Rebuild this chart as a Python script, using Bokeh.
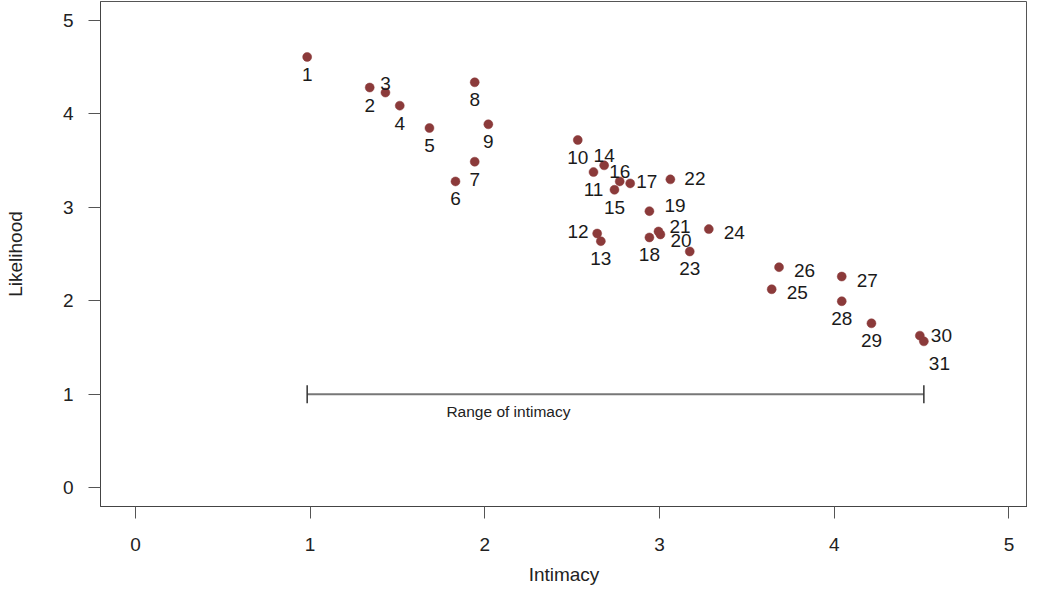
from math import pi
from bokeh.plotting import figure
from bokeh.models import Range1d, FixedTicker, ColumnDataSource, Label
from bokeh.core.properties import value
from bokeh.embed import file_html
from bokeh.resources import INLINE

# ---- data ----
ids = [str(i) for i in range(1, 32)]
intimacy = [0.983, 1.341, 1.431, 1.513, 1.683, 1.832, 1.942, 1.942, 2.020, 2.532,
            2.622, 2.643, 2.664, 2.683, 2.742, 2.772, 2.832, 2.942, 2.942, 3.005,
            2.994, 3.062, 3.173, 3.282, 3.642, 3.684, 4.043, 4.043, 4.213, 4.490,
            4.513]
likelihood = [4.607, 4.280, 4.226, 4.086, 3.847, 3.276, 3.487, 4.336, 3.887, 3.719,
              3.376, 2.719, 2.637, 3.448, 3.187, 3.276, 3.255, 2.677, 2.958, 2.709,
              2.741, 3.298, 2.527, 2.766, 2.123, 2.359, 2.259, 1.995, 1.759, 1.627,
              1.566]
# label placement relative to each point
label_pos = ["b", "b", "a", "b", "b", "b", "b", "b", "b", "b",
             "b", "l", "b", "a", "b", "a", "rn", "b", "ru", "rd",
             "ru2", "r0", "b", "r", "r", "r", "r", "b", "b", "r00",
             "br"]
x_ticks = [0, 1, 2, 3, 4, 5]
y_ticks = [0, 1, 2, 3, 4, 5]
x_title = "Intimacy"
y_title = "Likelihood"
range_label = "Range of intimacy"
range_level = 1

FONT = "Liberation Sans"
PT_COLOR = "#8B3A3A"

# label offsets (dx, dy in px, text_align)
OFFS = {
    "b": (0, 17.5, "center"),
    "a": (0, -9.5, "center"),
    "r": (15, 3.5, "left"),
    "r0": (14, -1, "left"),
    "r00": (11, 0, "left"),
    "rn": (6, -2, "left"),
    "ru": (15, -5.5, "left"),
    "ru2": (11, -5, "left"),
    "rd": (10, 6, "left"),
    "l": (-8.5, -2, "right"),
    "br": (5, 22, "left"),
}

X0 = -0.2
p = figure(width=1027, height=589, output_backend="svg", toolbar_location=None,
           x_range=Range1d(X0, X0 + 927 / 174.7), y_range=Range1d(-0.2, 5.2),
           min_border_left=100, min_border_right=0, min_border_top=1,
           min_border_bottom=83)
p.background_fill_color = "white"
p.border_fill_color = "white"
p.outline_line_color = "#555555"
p.outline_line_width = 1
p.xgrid.visible = False
p.ygrid.visible = False

for ax in (p.xaxis, p.yaxis):
    ax.axis_line_color = "#444444"
    ax.major_tick_line_color = "#555555"
    ax.major_tick_out = 12
    ax.major_tick_in = 0
    ax.minor_tick_line_color = None
    ax.major_label_text_font = FONT
    ax.major_label_text_font_size = "19px"
    ax.major_label_text_color = "#222222"
    ax.axis_label_text_font = FONT
    ax.axis_label_text_font_size = "19px"
    ax.axis_label_text_font_style = "normal"
    ax.axis_label_text_color = "#222222"

p.xaxis.ticker = FixedTicker(ticks=x_ticks)
p.yaxis.ticker = FixedTicker(ticks=y_ticks)
p.xaxis.axis_label = x_title
p.yaxis.axis_label = y_title
p.xaxis.major_label_standoff = 19
p.xaxis.axis_label_standoff = 10
p.yaxis.major_label_standoff = 15
p.yaxis.axis_label_standoff = 34
p.yaxis.major_label_orientation = "horizontal"

# range bar
xmin, xmax = min(intimacy), max(intimacy)
p.segment(x0=[xmin], y0=[range_level], x1=[xmax], y1=[range_level],
          line_color="#777777", line_width=2)
p.scatter(x=[xmin, xmax], y=[range_level, range_level], marker="dash",
          angle=pi / 2, size=18, line_color="#333333", line_width=1.5)
p.add_layout(Label(x=2.135, y=0.814, text=range_label, text_align="center",
                   text_baseline="middle", text_font=FONT,
                   text_font_size="15.5px", text_color="#222222"))

# points
p.scatter(x=intimacy, y=likelihood, size=9, fill_color=PT_COLOR,
          line_color=PT_COLOR, line_width=0.5)

# point labels, grouped by alignment
for align in ("center", "left", "right"):
    xs, ys, ts, dxs, dys = [], [], [], [], []
    for i, pos in enumerate(label_pos):
        dx, dy, a = OFFS[pos]
        if a != align:
            continue
        xs.append(intimacy[i]); ys.append(likelihood[i]); ts.append(ids[i])
        dxs.append(dx); dys.append(dy)
    src = ColumnDataSource(dict(x=xs, y=ys, t=ts, dx=dxs, dy=dys))
    p.text(x="x", y="y", text="t", x_offset="dx", y_offset="dy", source=src,
           text_align=align, text_baseline="middle", text_font=value(FONT),
           text_font_size="19px", text_color="#1a1a1a")

open("out.html", "w").write(file_html(p, INLINE))
